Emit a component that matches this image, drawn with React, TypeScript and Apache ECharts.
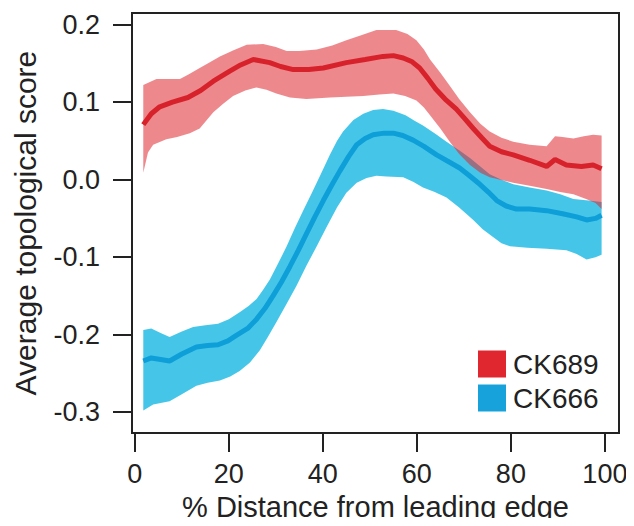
import React, { useEffect, useRef } from "react";
import * as echarts from "echarts";

const xTicks = [0, 20, 40, 60, 80, 100];
const yTicks = [-0.3, -0.2, -0.1, 0.0, 0.1, 0.2];
const seriesNames = ["CK689", "CK666"];

const redMean = [
  [1.8, 0.071], [3.5, 0.085], [5.3, 0.094], [8, 0.1], [11.3, 0.106], [14, 0.115], [16.7, 0.127],
  [20.2, 0.14], [22.5, 0.148], [25.2, 0.155], [28.7, 0.151], [31, 0.146], [33.7, 0.142], [37, 0.142],
  [40.1, 0.144], [45, 0.151], [49, 0.155], [52.8, 0.159], [55, 0.16], [57.1, 0.157], [59, 0.152],
  [60.6, 0.144], [62.3, 0.131], [64, 0.117], [66, 0.104], [68.4, 0.091], [70, 0.08], [72, 0.066],
  [73.8, 0.054], [75.5, 0.043], [78, 0.036], [80.5, 0.032], [84, 0.025], [87.6, 0.017], [89.4, 0.026],
  [91.8, 0.019], [95, 0.017], [97.5, 0.019], [99.3, 0.014],
];
const redUpper = [
  [1.8, 0.122], [4.6, 0.13], [6, 0.13], [9.6, 0.13], [11.5, 0.136], [13.8, 0.144], [15.5, 0.15],
  [18.1, 0.159], [21, 0.167], [23.8, 0.174], [27.3, 0.175], [30, 0.171], [32.3, 0.166], [35, 0.166],
  [38.7, 0.168], [42, 0.173], [45, 0.18], [48, 0.186], [51.4, 0.193], [55.6, 0.193], [58, 0.188],
  [59.9, 0.18], [61.5, 0.168], [62.8, 0.155], [65, 0.138], [67, 0.121], [69, 0.104], [71.3, 0.087],
  [73.5, 0.072], [75.5, 0.062], [78, 0.054], [80.5, 0.049], [84, 0.045], [87.6, 0.043], [89.4, 0.056],
  [91, 0.055], [93.3, 0.053], [95.5, 0.056], [97.5, 0.058], [99.3, 0.057],
];
const redLower = [
  [1.8, 0.009], [2.8, 0.035], [3.9, 0.045], [6.7, 0.052], [9, 0.055], [11.7, 0.06], [13.8, 0.066],
  [16.7, 0.087], [18.8, 0.098], [20.9, 0.108], [23.5, 0.115], [25.9, 0.119], [28, 0.116], [30.1, 0.111],
  [33, 0.106], [36.5, 0.104], [41.5, 0.106], [45, 0.107], [48.6, 0.108], [52, 0.11], [55, 0.111],
  [57.5, 0.108], [59.9, 0.102], [61.5, 0.093], [62.8, 0.083], [65, 0.066], [67, 0.049], [69, 0.033],
  [71.3, 0.019], [73.5, 0.009], [75.5, 0.003], [80.5, -0.004], [84, -0.008], [87.6, -0.012],
  [90.5, -0.016], [93.3, -0.019], [96, -0.025], [98, -0.03], [99.3, -0.038],
];

const blueMean = [
  [1.8, -0.234], [3.5, -0.23], [5.5, -0.232], [7.4, -0.234], [10, -0.225], [13.1, -0.216], [15.5, -0.214],
  [17.7, -0.213], [19.8, -0.208], [21.6, -0.201], [24, -0.192], [25.9, -0.18], [27.7, -0.166], [29.4, -0.15],
  [31.2, -0.132], [33, -0.112], [34.8, -0.091], [36.5, -0.07], [38.3, -0.048], [40.1, -0.027], [42, -0.006],
  [43.6, 0.011], [45.5, 0.03], [47.2, 0.045], [49, 0.053], [50.7, 0.058], [53, 0.06], [55, 0.06],
  [57, 0.057], [59.2, 0.051], [61.5, 0.043], [64.2, 0.032], [66.5, 0.024], [69.1, 0.015], [71, 0.006],
  [73.4, -0.006], [75.2, -0.016], [77, -0.027], [79, -0.034], [81.2, -0.038], [84, -0.038], [87.6, -0.04],
  [91, -0.044], [94, -0.048], [96.1, -0.052], [98, -0.05], [99.3, -0.046],
];
const blueUpper = [
  [1.8, -0.194], [3.5, -0.192], [5.5, -0.198], [7.4, -0.203], [10, -0.196], [12.4, -0.19], [15, -0.188],
  [17.7, -0.186], [20, -0.18], [22.3, -0.171], [24.2, -0.163], [25.9, -0.154], [27.3, -0.142], [28.7, -0.129],
  [30.5, -0.108], [32.3, -0.086], [34, -0.063], [35.8, -0.04], [37.6, -0.018], [39.4, 0.005], [41.5, 0.032],
  [43, 0.05], [44.3, 0.062], [46.5, 0.077], [48.6, 0.085], [50.7, 0.09], [52.8, 0.091], [55, 0.089],
  [57.6, 0.083], [59.5, 0.076], [61.3, 0.07], [64, 0.059], [66.3, 0.049], [69, 0.038], [71.3, 0.028],
  [73.5, 0.017], [75.5, 0.007], [78, 0.0], [80.5, -0.006], [84, -0.01], [87.6, -0.014], [90.5, -0.019],
  [93.3, -0.025], [96.5, -0.027], [99.3, -0.029],
];
const blueLower = [
  [1.8, -0.298], [3.9, -0.29], [7.4, -0.286], [10, -0.277], [13.1, -0.266], [15.5, -0.262], [18.1, -0.259],
  [20.3, -0.254], [22.3, -0.247], [24.5, -0.236], [26.6, -0.22], [28.3, -0.203], [30.1, -0.184], [32.3, -0.16],
  [34.4, -0.137], [36.5, -0.111], [38.7, -0.086], [40.8, -0.061], [43, -0.036], [45, -0.017], [47.2, -0.004],
  [49.3, 0.002], [51.4, 0.005], [53.5, 0.004], [57.1, 0.003], [59.3, -0.003], [61.3, -0.01], [63.8, -0.016],
  [66.3, -0.023], [69, -0.036], [72, -0.052], [74, -0.064], [76.2, -0.074], [78, -0.082], [79.8, -0.086],
  [83.5, -0.088], [87.6, -0.089], [91.8, -0.091], [94, -0.096], [96.1, -0.103], [98, -0.1], [99.3, -0.097],
];

const FONT = "'Liberation Sans', Arial, Helvetica, sans-serif";
const RED_LINE = "#D8222B";
const RED_BAND = "rgba(222, 40, 48, 0.55)";
const BLUE_LINE = "#0E9ED8";
const BLUE_BAND = "#45C6E9";

function bandSeries(upper: number[][], lower: number[][], fill: string, z: number) {
  return {
    type: "custom",
    coordinateSystem: "cartesian2d",
    silent: true,
    z,
    data: [[upper[0][0], upper[0][1]]],
    renderItem: (params: any, api: any) => {
      const pts = upper
        .map((p) => api.coord(p))
        .concat(lower.slice().reverse().map((p) => api.coord(p)));
      return { type: "polygon", shape: { points: pts }, style: { fill } };
    },
  };
}

export default function App() {
  const ref = useRef<HTMLDivElement>(null);
  useEffect(() => {
    if (!ref.current) return;
    const chart = echarts.init(ref.current, undefined, { renderer: "svg" });
    chart.setOption({
      animation: false,
      backgroundColor: "#ffffff",
      textStyle: { fontFamily: FONT },
      grid: {
        left: 132,
        top: 13,
        width: 487,
        height: 426,
        show: true,
        borderColor: "#222",
        borderWidth: 2,
        backgroundColor: "transparent",
      },
      legend: {
        orient: "vertical",
        left: 473,
        top: 345,
        icon: "rect",
        itemWidth: 28,
        itemHeight: 27,
        itemGap: 6,
        textStyle: { fontSize: 28, color: "#222", fontFamily: FONT, padding: [0, 0, 0, 2] },
        data: [
          { name: seriesNames[0], itemStyle: { color: "#E0262E" } },
          { name: seriesNames[1], itemStyle: { color: "#18A2DC" } },
        ],
      },
      xAxis: {
        type: "value",
        min: -0.6,
        max: 103,
        name: "% Distance from leading edge",
        nameLocation: "middle",
        nameGap: 55,
        nameTextStyle: { fontSize: 29, color: "#222", fontFamily: FONT },
        axisLine: { show: false, onZero: false },
        axisTick: {
          show: true,
          length: 19,
          customValues: xTicks,
          lineStyle: { color: "#222", width: 2 },
        },
        axisLabel: {
          customValues: xTicks,
          fontSize: 27,
          color: "#222",
          margin: 27,
          fontFamily: FONT,
        },
        splitLine: { show: false },
      },
      yAxis: {
        type: "value",
        min: -0.327,
        max: 0.215,
        name: "Average topological score",
        nameLocation: "middle",
        nameGap: 92,
        nameTextStyle: { fontSize: 30, color: "#222", fontFamily: FONT },
        axisLine: { show: false, onZero: false },
        axisTick: {
          show: true,
          length: 19,
          customValues: yTicks,
          lineStyle: { color: "#222", width: 2 },
        },
        axisLabel: {
          customValues: yTicks,
          fontSize: 27,
          color: "#222",
          margin: 32,
          fontFamily: FONT,
          formatter: (v: number) => v.toFixed(1),
        },
        splitLine: { show: false },
      },
      series: [
        bandSeries(blueUpper, blueLower, BLUE_BAND, 1),
        bandSeries(redUpper, redLower, RED_BAND, 2),
        {
          name: seriesNames[1],
          type: "line",
          z: 3,
          data: blueMean,
          showSymbol: false,
          itemStyle: { color: BLUE_LINE },
          lineStyle: { color: BLUE_LINE, width: 5 },
        },
        {
          name: seriesNames[0],
          type: "line",
          z: 4,
          data: redMean,
          showSymbol: false,
          itemStyle: { color: RED_LINE },
          lineStyle: { color: RED_LINE, width: 5 },
        },
      ],
    });
    return () => chart.dispose();
  }, []);
  return <div ref={ref} style={{ width: 634, height: 526, margin: -8 }} />;
}
